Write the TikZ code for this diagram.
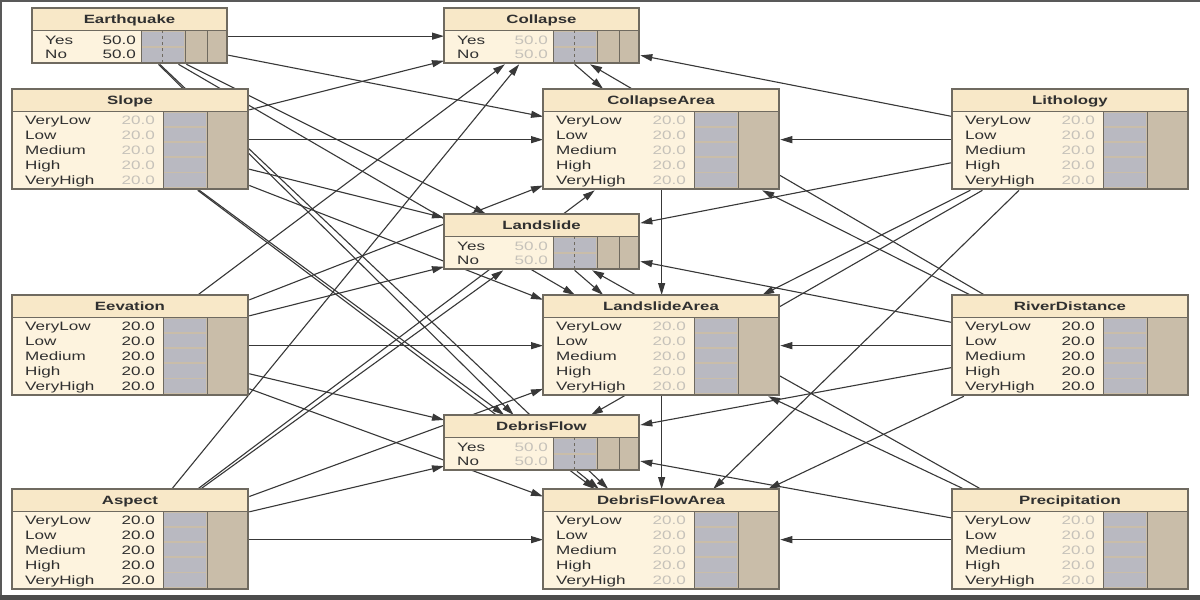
\documentclass[tikz,border=0pt]{standalone}
\usepackage{fontspec}
\setmainfont{Liberation Sans}[FakeStretch=1.4]
\usetikzlibrary{arrows.meta,backgrounds}
\definecolor{bnline}{HTML}{6F6A60}
\definecolor{bnbody}{HTML}{FDF3DE}
\definecolor{bnhead}{HTML}{F8E8C8}
\definecolor{bnbar}{HTML}{C9BDA9}
\definecolor{bnblue}{HTML}{B9B9C1}
\definecolor{bntext}{HTML}{303030}
\definecolor{bnfaint}{HTML}{C6C2BA}
\definecolor{bnarc}{HTML}{383838}

\tikzset{
  bigbox/.style={draw=bnline, fill=bnbody, line width=1.3pt, minimum width=236pt,
    minimum height=100pt, inner sep=0pt, outer sep=0.65pt, anchor=north west},
  smallbox/.style={bigbox, minimum width=195pt, minimum height=55pt},
  bntitle/.style={anchor=base, inner sep=0pt, text=bntext, font=\bfseries\fontsize{12}{14}\selectfont},
  bnstate/.style={anchor=base west, inner sep=0pt, text=bntext, font=\fontsize{12.2}{14}\selectfont},
  bnvalue/.style={bnstate, anchor=base east},
  arc/.style={-{Triangle[length=12pt,width=7pt]}, draw=bnarc, line width=1.1pt},
}

% node with five states
\newcommand{\fivestates}[3]{%
  \begin{scope}[shift={(#1.north west)}]
    \fill[bnhead] (0,0) rectangle (236,22);
    \fill[bnbar] (151,22) rectangle (236,100);
    \foreach \i in {1,...,5}
      \fill[bnblue] (152,{23.5+15.2*(\i-1)}) rectangle (194,{37+15.2*(\i-1)});
    \draw[bnline, line width=1pt] (0,22) -- (236,22) (151,22) -- (151,100) (195,22) -- (195,100);
    \draw[bnline, line width=1.3pt] (0,0) rectangle (236,100);
    \node[bntitle] at (118,15.5) {#2};
    \foreach \s [count=\i] in {VeryLow,Low,Medium,High,VeryHigh}
    {
      \node[bnstate] at (13,{20.5+15*\i}) {\s};
      \node[bnvalue, text=#3] at (143,{20.5+15*\i}) {20.0};
    }
  \end{scope}}

% node with two states
\newcommand{\twostates}[3]{%
  \begin{scope}[shift={(#1.north west)}]
    \fill[bnhead] (0,0) rectangle (195,22);
    \fill[bnbar] (109,22) rectangle (195,55);
    \fill[bnblue] (110,23.5) rectangle (152,38);
    \fill[bnblue] (110,39.5) rectangle (152,54);
    \draw[bnline, line width=1pt] (0,22) -- (195,22) (109,22) -- (109,55) (153,22) -- (153,55) (175,22) -- (175,55);
    \draw[bnline, dashed] (130,22) -- (130,55);
    \draw[bnline, line width=1.3pt] (0,0) rectangle (195,55);
    \node[bntitle] at (97.5,15.5) {#2};
    \node[bnstate] at (13,36.5) {Yes};
    \node[bnvalue, text=#3] at (104,36.5) {50.0};
    \node[bnstate] at (13,50.5) {No};
    \node[bnvalue, text=#3] at (104,50.5) {50.0};
  \end{scope}}

\begin{document}
\begin{tikzpicture}[x=1pt,y=-1pt]
\useasboundingbox (0,0) rectangle (1200,600);

\node[smallbox] (earthquake) at (32,8) {};
\node[smallbox] (collapse) at (444,8) {};
\node[bigbox] (slope) at (12,89) {};
\node[bigbox] (collapsearea) at (543,89) {};
\node[bigbox] (lithology) at (952,89) {};
\node[smallbox] (landslide) at (444,214) {};
\node[bigbox] (elevation) at (12,295) {};
\node[bigbox] (landslidearea) at (543,295) {};
\node[bigbox] (riverdistance) at (952,295) {};
\node[smallbox] (debrisflow) at (444,415) {};
\node[bigbox] (aspect) at (12,489) {};
\node[bigbox] (debrisflowarea) at (543,489) {};
\node[bigbox] (precipitation) at (952,489) {};

% arcs below the boxes
\begin{scope}[on background layer]
\fill[white] (0,0) rectangle (1200,600);
\foreach \a in {earthquake,slope,elevation,aspect,lithology,riverdistance}
  \foreach \b in {collapse,collapsearea,landslide,landslidearea,debrisflow,debrisflowarea}
    \draw[arc] (\a) -- (\b);
\foreach \b in {landslide,landslidearea,debrisflow,debrisflowarea}
  \draw[arc] (precipitation) -- (\b);
\draw[arc] (collapse) -- (collapsearea);
\draw[arc] (landslide) -- (landslidearea);
\draw[arc] (debrisflow) -- (debrisflowarea);
\draw[arc] (collapsearea) -- (landslidearea);
\draw[arc] (landslidearea) -- (debrisflowarea);
\end{scope}

% frame
\draw[black!65, line width=1.5pt] (1,600) -- (1,1) -- (1200,1);
\fill[black!70] (0,595) rectangle (1200,600);

\twostates{earthquake}{Earthquake}{bntext}
\twostates{collapse}{Collapse}{bnfaint}
\fivestates{slope}{Slope}{bnfaint}
\fivestates{collapsearea}{CollapseArea}{bnfaint}
\fivestates{lithology}{Lithology}{bnfaint}
\twostates{landslide}{Landslide}{bnfaint}
\fivestates{elevation}{Eevation}{bntext}
\fivestates{landslidearea}{LandslideArea}{bnfaint}
\fivestates{riverdistance}{RiverDistance}{bntext}
\twostates{debrisflow}{DebrisFlow}{bnfaint}
\fivestates{aspect}{Aspect}{bntext}
\fivestates{debrisflowarea}{DebrisFlowArea}{bnfaint}
\fivestates{precipitation}{Precipitation}{bnfaint}
\end{tikzpicture}
\end{document}
